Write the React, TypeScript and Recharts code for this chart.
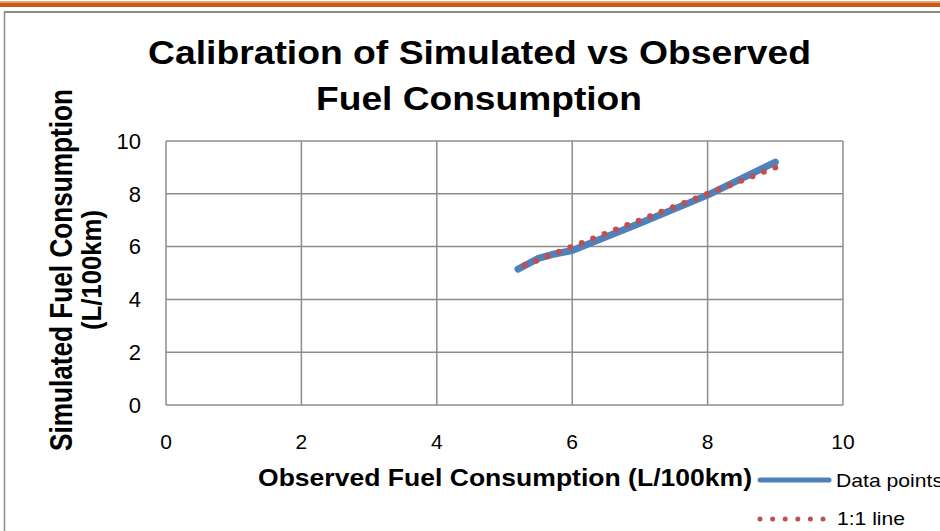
import React from 'react'
import { LineChart, Line, XAxis, YAxis, CartesianGrid } from 'recharts'

// observed vs simulated fuel consumption (L/100km)
const observed = [5.2, 5.5, 5.7, 6.0, 7.0, 8.0, 9.0]
const simulated = [5.15, 5.55, 5.7, 5.85, 6.88, 7.95, 9.2]

// 1:1 reference line
const refX = [5.3, 9.0]
const refY = [5.3, 9.0]

const axisTicks = [0, 2, 4, 6, 8, 10]

const titleLines = ['Calibration of Simulated vs Observed', 'Fuel Consumption']
const xTitle = 'Observed Fuel Consumption (L/100km)'
const yTitleLines = ['Simulated Fuel Consumption', '(L/100km)']
const seriesNames = ['Data points', '1:1 line']

const BLUE = '#4F81BD'
const RED = '#C0504D'
const GRID = '#8c8c8c'
const FONT = '"Liberation Sans", Arial, sans-serif'

const dataPoints = observed.map((x, i) => ({ x, y: simulated[i] }))
const oneToOne = refX.map((x, i) => ({ x, y: refY[i] }))

const Overlay = () => (
  <svg width={940} height={531} style={{ position: 'absolute', left: 0, top: 0, pointerEvents: 'none' }}>
    <rect x={0} y={3} width={940} height={4} fill="#C55A11" />
    <rect x={0} y={1} width={940} height={2} fill="#E8A070" />
    <line x1={4} y1={12} x2={940} y2={12} stroke="#8a8a8a" strokeWidth={2} />
    <line x1={4.5} y1={11} x2={4.5} y2={531} stroke="#8a8a8a" strokeWidth={1.5} />

    <text x={148} y={64} fontFamily={FONT} fontWeight="bold" fontSize={33} textLength={663} lengthAdjust="spacingAndGlyphs">
      {titleLines[0]}
    </text>
    <text x={316} y={110} fontFamily={FONT} fontWeight="bold" fontSize={33} textLength={326} lengthAdjust="spacingAndGlyphs">
      {titleLines[1]}
    </text>

    <text transform="translate(72,270) rotate(-90) scale(1,1.2)" textAnchor="middle" fontFamily={FONT} fontWeight="bold" fontSize={25.5} textLength={362} lengthAdjust="spacingAndGlyphs">
      {yTitleLines[0]}
    </text>
    <text transform="translate(101,270) rotate(-90) scale(1,1.1)" textAnchor="middle" fontFamily={FONT} fontWeight="bold" fontSize={25.5} textLength={120} lengthAdjust="spacingAndGlyphs">
      {yTitleLines[1]}
    </text>

    <text x={258} y={486} fontFamily={FONT} fontWeight="bold" fontSize={24} textLength={494} lengthAdjust="spacingAndGlyphs">
      {xTitle}
    </text>

    <line x1={760} y1={480} x2={829} y2={480} stroke={BLUE} strokeWidth={5} strokeLinecap="round" />
    <text x={836} y={487} fontFamily={FONT} fontSize={19} textLength={107} lengthAdjust="spacingAndGlyphs">{seriesNames[0]}</text>
    <line x1={760} y1={519} x2={824} y2={519} stroke={RED} strokeWidth={5} strokeLinecap="round" strokeDasharray="0 12.6" />
    <text x={837} y={525} fontFamily={FONT} fontSize={19} textLength={68} lengthAdjust="spacingAndGlyphs">{seriesNames[1]}</text>
  </svg>
)

const App: React.FC = () => {
  return (
    <div style={{ position: 'absolute', left: 0, top: 0, width: 940, height: 531, background: '#fff', overflow: 'hidden' }}>
      <LineChart width={940} height={531} margin={{ top: 141, right: 97, bottom: 96, left: 106 }}>
        <CartesianGrid stroke={GRID} strokeWidth={1.5} />
        <XAxis
          type="number"
          dataKey="x"
          domain={[0, 10]}
          ticks={axisTicks}
          axisLine={false}
          tickLine={false}
          height={30}
          tickMargin={23}
          tick={{ fill: '#000', fontSize: 21, fontFamily: FONT }}
        />
        <YAxis
          type="number"
          dataKey="y"
          domain={[0, 10]}
          ticks={axisTicks}
          axisLine={false}
          tickLine={false}
          width={60}
          tickMargin={19}
          tick={{ fill: '#000', fontSize: 22, fontFamily: FONT }}
        />
        <Line
          data={dataPoints}
          dataKey="y"
          name={seriesNames[0]}
          stroke={BLUE}
          strokeWidth={7}
          strokeLinecap="round"
          strokeLinejoin="round"
          dot={false}
          isAnimationActive={false}
        />
        <Line
          data={oneToOne}
          dataKey="y"
          name={seriesNames[1]}
          stroke={RED}
          strokeWidth={6}
          strokeLinecap="round"
          strokeDasharray="0 12.22"
          dot={false}
          isAnimationActive={false}
        />
      </LineChart>
      <Overlay />
    </div>
  )
}

export default App
